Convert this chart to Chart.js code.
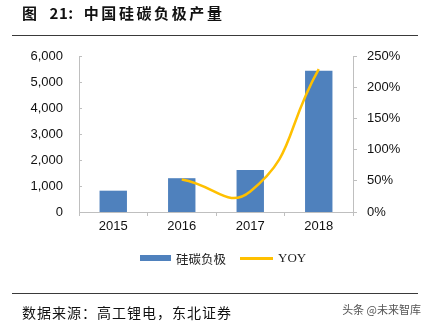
<!DOCTYPE html>
<html>
<head>
<meta charset="utf-8">
<script src="https://cdn.jsdelivr.net/npm/chart.js@4.4.0/dist/chart.umd.min.js"></script>
<style>
  html, body { margin: 0; padding: 0; background: #fff; }
  #wrap { position: relative; width: 430px; height: 324px; overflow: hidden; background: #fff; }
  #c { position: absolute; left: 0; top: 0; }
  .abs { position: absolute; white-space: pre; }
  #title { left: 22px; top: 2px; font: bold 15px "Noto Sans CJK SC", sans-serif; letter-spacing: 2.6px; word-spacing: 4px; color: #111; }
  #title .n { letter-spacing: 0.5px; }
  .rule { position: absolute; left: 12px; width: 406px; height: 1.5px; background: #3a3a3a; }
  #src { left: 22px; top: 302px; font: 14px "Noto Sans CJK SC", sans-serif; letter-spacing: 1px; color: #111; }
  #wm { right: 9px; top: 301px; font: 11px "Noto Sans CJK SC", sans-serif; color: #555; }
  .lg { position: absolute; }
  .lgt { font: 12.5px "Noto Sans CJK SC", sans-serif; color: #222; top: 249px; }
</style>
</head>
<body>
<div id="wrap">
  <canvas id="c" width="430" height="324"></canvas>
  <div id="title" class="abs">图 <span class="n">21:</span> 中国硅碳负极产量</div>
  <div class="rule" style="top:34.5px"></div>
  <div class="lg" style="left:140px; top:255px; width:31px; height:6px; background:#4F81BD"></div>
  <div class="abs lgt" style="left:176px;">硅碳负极</div>
  <div class="lg" style="left:240px; top:256.5px; width:33px; height:3px; background:#FFC000"></div>
  <div class="abs lgt" style="left:278px; font-family:'Liberation Serif', serif; font-size:13px; top:250px;">YOY</div>
  <div class="rule" style="top:292.5px"></div>
  <div id="src" class="abs">数据来源：高工锂电，东北证券</div>
  <div id="wm" class="abs">头条 @未来智库</div>
</div>
<script>
const categories = ["2015", "2016", "2017", "2018"];
const outputValues = [820, 1300, 1620, 5430];
const yoyValues = [null, 52, 33, 229];
const leftTicks = [0, 1000, 2000, 3000, 4000, 5000, 6000];
const rightTicks = [0, 50, 100, 150, 200, 250];

const axisGray = "#BFBFBF";
const tickFont = { family: "'Liberation Sans', Arial, sans-serif", size: 13 };

const innerTicks = {
  id: "innerTicks",
  afterDraw(chart) {
    const s = chart.scales.y;
    const ctx = chart.ctx;
    ctx.save();
    ctx.strokeStyle = axisGray;
    ctx.lineWidth = 1;
    leftTicks.forEach(v => {
      const py = Math.round(s.getPixelForValue(v)) + 0.5;
      ctx.beginPath();
      ctx.moveTo(s.right, py);
      ctx.lineTo(s.right + 3, py);
      ctx.stroke();
    });
    ctx.restore();
  }
};

new Chart(document.getElementById("c"), {
  data: {
    labels: categories,
    datasets: [
      {
        type: "line",
        label: "YOY",
        data: yoyValues,
        yAxisID: "y1",
        borderColor: "#FFC000",
        backgroundColor: "#FFC000",
        borderWidth: 2.5,
        pointRadius: 0,
        tension: 0.5,
        fill: false,
        order: 0
      },
      {
        type: "bar",
        label: "硅碳负极",
        data: outputValues,
        yAxisID: "y",
        backgroundColor: "#4F81BD",
        barPercentage: 0.4,
        categoryPercentage: 1.0,
        order: 1
      }
    ]
  },
  options: {
    responsive: false,
    animation: false,
    devicePixelRatio: 1,
    layout: { padding: { left: 0, right: 0, top: 56, bottom: 82 } },
    plugins: { legend: { display: false }, tooltip: { enabled: false } },
    scales: {
      x: {
        grid: { display: true, offset: true, drawOnChartArea: false, drawTicks: true, tickLength: 4, color: axisGray },
        border: { display: true, color: axisGray },
        ticks: { font: tickFont, color: "#111", padding: 3, maxRotation: 0 },
        afterFit(s) { s.height = 30; }
      },
      y: {
        position: "left",
        min: 0, max: 6000,
        afterBuildTicks(s) { s.ticks = leftTicks.map(v => ({ value: v })); },
        grid: { display: false, drawTicks: false },
        border: { display: true, color: axisGray },
        ticks: {
          font: tickFont, color: "#111", padding: 16,
          callback: v => v.toLocaleString("en-US")
        },
        afterFit(s) { s.width = 79; }
      },
      y1: {
        position: "right",
        min: 0, max: 250,
        afterBuildTicks(s) { s.ticks = rightTicks.map(v => ({ value: v })); },
        grid: { display: true, drawOnChartArea: false, drawTicks: true, tickLength: 4, color: axisGray },
        border: { display: true, color: axisGray },
        ticks: { font: tickFont, color: "#111", padding: 10, callback: v => v + "%" },
        afterFit(s) { s.width = 77; }
      }
    }
  },
  plugins: [innerTicks]
});
</script>
</body>
</html>
